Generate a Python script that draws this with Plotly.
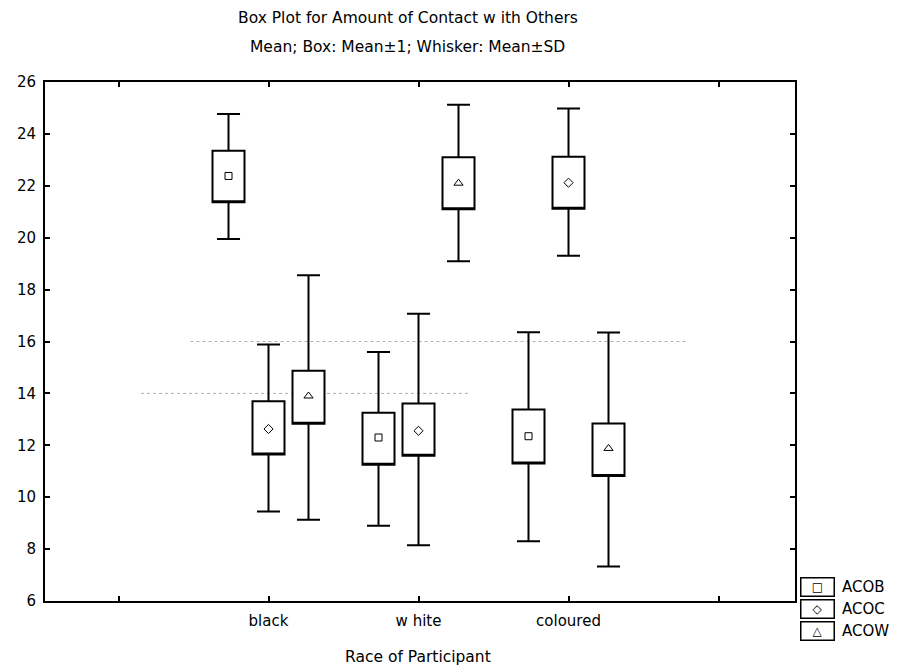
import plotly.graph_objects as go

# ---- data ----
categories = ["black", "w hite", "coloured"]
cat_pos = [0, 1, 2]
series = ["ACOB", "ACOC", "ACOW"]

# per category: mean - SD, mean - 1, mean, mean + 1, mean + SD
acob_low_whisker = [19.95, 8.90, 8.30]
acob_box_low = [21.37, 11.25, 11.30]
acob_mean = [22.38, 12.30, 12.35]
acob_box_high = [23.35, 13.25, 13.38]
acob_high_whisker = [24.77, 15.60, 16.36]

acoc_low_whisker = [9.45, 8.15, 19.30]
acoc_box_low = [11.65, 11.60, 21.12]
acoc_mean = [12.63, 12.56, 22.12]
acoc_box_high = [13.70, 13.61, 23.12]
acoc_high_whisker = [15.88, 17.07, 24.98]

acow_low_whisker = [9.13, 19.09, 7.33]
acow_box_low = [12.83, 21.10, 10.82]
acow_mean = [13.90, 22.10, 11.88]
acow_box_high = [14.87, 23.10, 12.84]
acow_high_whisker = [18.55, 25.12, 16.35]

x_tick_vals = [-1, 0, 1, 2, 3]
x_tick_text = [""] + categories + [""]
y_tick_vals = [6, 8, 10, 12, 14, 16, 18, 20, 22, 24, 26]
grid_values = [16, 14]
grid_x_from = [-0.52, -0.85]
grid_x_to = [2.8, 1.35]

symbols = ["square-open", "diamond-open", "triangle-up-open"]
symbol_sizes = [7, 7, 8]
legend_glyphs = ["\u25A1", "\u25C7", "\u25B3"]

stats = [
    (acob_low_whisker, acob_box_low, acob_mean, acob_box_high, acob_high_whisker),
    (acoc_low_whisker, acoc_box_low, acoc_mean, acoc_box_high, acoc_high_whisker),
    (acow_low_whisker, acow_box_low, acow_mean, acow_box_high, acow_high_whisker),
]

BOXGAP = 0.2
slot = (1 - BOXGAP) / len(series)
FONT = "DejaVu Sans"

fig = go.Figure()
for i, (name, st) in enumerate(zip(series, stats)):
    lo, bl, mn, bh, hi = st
    fig.add_trace(go.Box(
        name=name, x=cat_pos,
        lowerfence=lo, q1=bl, median=bl, q3=bh, upperfence=hi,
        fillcolor="white", line=dict(color="black", width=2),
        whiskerwidth=0.72, boxpoints=False, showlegend=False,
        offsetgroup=name, hoverinfo="skip",
    ))
for i, (name, st) in enumerate(zip(series, stats)):
    off = (i - (len(series) - 1) / 2) * slot
    fig.add_trace(go.Scatter(
        x=[p + off for p in cat_pos], y=st[2], mode="markers",
        marker=dict(symbol=symbols[i], size=symbol_sizes[i], color="black",
                    line=dict(color="black", width=1)),
        showlegend=False, hoverinfo="skip",
    ))

for g, x0, x1 in zip(grid_values, grid_x_from, grid_x_to):
    fig.add_shape(type="line", xref="x", yref="y", x0=x0, x1=x1, y0=g, y1=g,
                  line=dict(color="#b0b0b0", width=1, dash="dot"), layer="below")

# custom legend (boxed symbols)
L, R, T, B = 45, 105, 82, 66
pw, ph = 900 - L - R, 667 - T - B
row_y = [587, 609, 631]
for glyph, name, yy in zip(legend_glyphs, series, row_y):
    yp = (667 - B - yy) / ph
    fig.add_annotation(xref="paper", yref="paper", x=(817 - L) / pw, y=yp,
                       text=glyph, showarrow=False, font=dict(size=12, color="black", family="DejaVu Sans"),
                       bordercolor="black", borderwidth=1.5, width=30, height=15,
                       xanchor="center", yanchor="middle", bgcolor="white")
    fig.add_annotation(xref="paper", yref="paper", x=(840 - L) / pw, y=yp,
                       text=name, showarrow=False, font=dict(size=15, color="black", family=FONT),
                       xanchor="left", yanchor="middle")

fig.add_annotation(xref="paper", yref="paper", x=(408 - L) / pw, y=(667 - B - 18) / ph,
                   text="Box Plot for Amount of Contact w ith Others", showarrow=False,
                   font=dict(size=15.5, color="black", family=FONT), xanchor="center", yanchor="middle")
fig.add_annotation(xref="paper", yref="paper", x=(407 - L) / pw, y=(667 - B - 47) / ph,
                   text="Mean; Box: Mean\u00b11; Whisker: Mean\u00b1SD", showarrow=False,
                   font=dict(size=15.5, color="black", family=FONT), xanchor="center", yanchor="middle")
fig.add_annotation(xref="paper", yref="paper", x=(418 - L) / pw, y=(667 - B - 657) / ph,
                   text="Race of Participant", showarrow=False,
                   font=dict(size=15.5, color="black", family=FONT), xanchor="center", yanchor="middle")

fig.update_layout(
    width=900, height=667,
    margin=dict(l=L, r=R, t=T, b=B, autoexpand=False),
    paper_bgcolor="white", plot_bgcolor="white",
    boxmode="group", boxgap=BOXGAP, boxgroupgap=0.2,
    font=dict(family=FONT, color="black"),
    xaxis=dict(range=[-1.49, 3.51], tickvals=x_tick_vals, ticktext=x_tick_text,
               showgrid=False, zeroline=False, showline=True, linecolor="black", linewidth=2,
               mirror="ticks", ticks="inside", ticklen=5, tickwidth=1.5, tickcolor="black",
               tickfont=dict(size=15), ticklabelstandoff=5),
    yaxis=dict(range=[6, 26], tickvals=y_tick_vals,
               showgrid=False, zeroline=False, showline=True, linecolor="black", linewidth=2,
               mirror="ticks", ticks="inside", ticklen=5, tickwidth=1.5, tickcolor="black",
               tickfont=dict(size=15), ticklabelstandoff=4),
)

fig.write_html("out.html", config={"displayModeBar": False},
               post_script="document.body.style.margin='0px';")
